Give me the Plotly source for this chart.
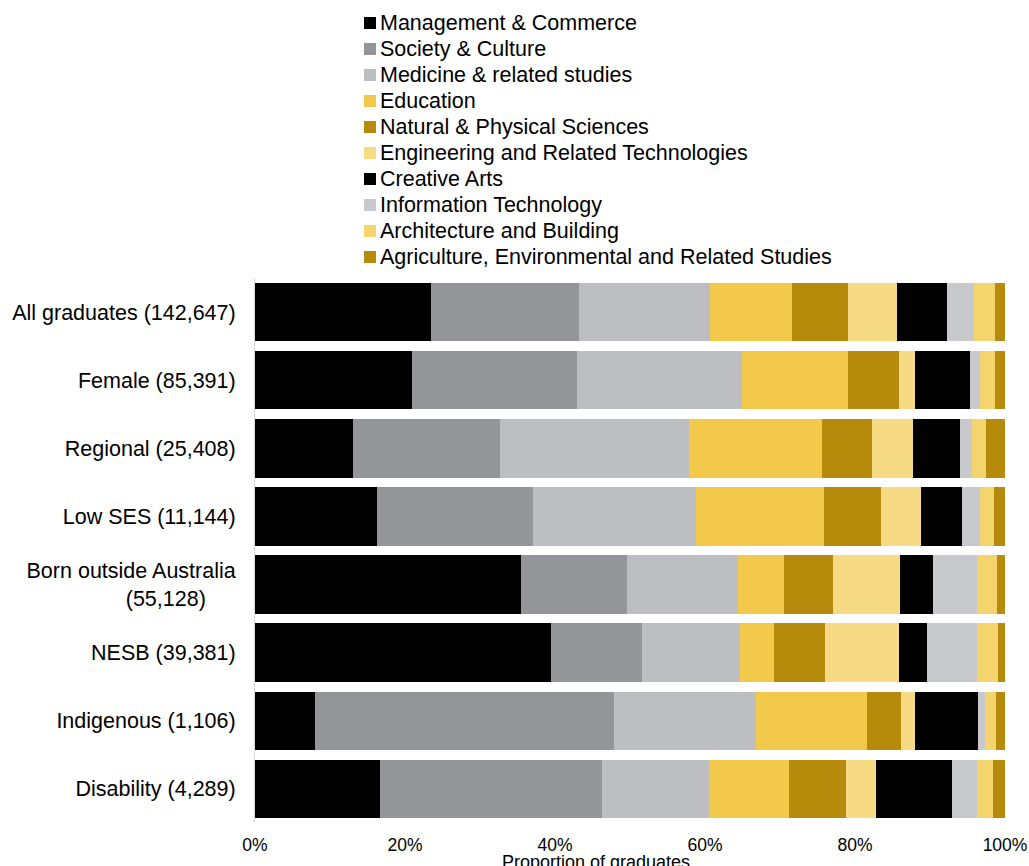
import plotly.graph_objects as go

categories = [
    "All graduates (142,647)",
    "Female (85,391)",
    "Regional (25,408)",
    "Low SES (11,144)",
    "Born outside Australia<br>(55,128)\u00a0\u00a0\u00a0\u00a0\u00a0",
    "NESB (39,381)",
    "Indigenous (1,106)",
    "Disability (4,289)",
]

series_names = [
    "Management & Commerce",
    "Society & Culture",
    "Medicine & related studies",
    "Education",
    "Natural & Physical Sciences",
    "Engineering and Related Technologies",
    "Creative Arts",
    "Information Technology",
    "Architecture and Building",
    "Agriculture, Environmental and Related Studies",
]

# proportions (%) per category, in the order of `categories`
management = [23.5, 20.9, 13.1, 16.2, 35.5, 39.4, 8.0, 16.6]
society = [19.7, 22.0, 19.5, 20.8, 14.1, 12.2, 39.8, 29.6]
medicine = [17.5, 22.0, 25.2, 21.8, 14.8, 13.0, 19.0, 14.3]
education = [10.9, 14.1, 17.8, 17.0, 6.1, 4.6, 14.8, 10.7]
natural = [7.4, 6.9, 6.7, 7.7, 6.5, 6.8, 4.5, 7.6]
engineering = [6.6, 2.1, 5.4, 5.3, 9.0, 9.8, 1.9, 4.0]
creative = [6.6, 7.3, 6.3, 5.5, 4.4, 3.8, 8.4, 10.1]
it = [3.7, 1.3, 1.6, 2.4, 5.8, 6.6, 0.9, 3.4]
architecture = [2.7, 2.0, 1.9, 1.8, 2.7, 2.9, 1.5, 2.1]
agriculture = [1.4, 1.4, 2.5, 1.5, 1.1, 0.9, 1.2, 1.6]

x_ticks = [0, 20, 40, 60, 80, 100]
x_ticklabels = ["0%", "20%", "40%", "60%", "80%", "100%"]

values = [management, society, medicine, education, natural,
          engineering, creative, it, architecture, agriculture]
colors = ["#000000", "#939598", "#BCBEC1", "#F3C94B", "#B68A0A",
          "#F7DA84", "#000000", "#C8C9CC", "#F4D46C", "#B68A0A"]

FONT = "Arial, Liberation Sans, sans-serif"

W, H = 1029, 866
PL, PR, PT, PB = 255, 1005, 278, 823  # plot area in window pixels
PW, PH = PR - PL, PB - PT

fig = go.Figure()
for name, vals, col in zip(series_names, values, colors):
    fig.add_trace(go.Bar(
        y=categories, x=vals, name=name, orientation="h",
        marker=dict(color=col, line=dict(width=0)),
        showlegend=False,
    ))

fig.update_layout(
    width=W, height=H,
    barmode="stack", bargap=0.14,
    paper_bgcolor="white", plot_bgcolor="white",
    margin=dict(l=PL, r=W - PR, t=PT, b=H - PB, autoexpand=False),
    font=dict(family=FONT, color="#000000"),
    showlegend=False,
)
fig.update_xaxes(
    range=[0, 100], tickvals=x_ticks, ticktext=x_ticklabels,
    showgrid=False, zeroline=False, showline=False,
    tickfont=dict(size=17.5, family=FONT), ticklabelstandoff=9,
)
fig.update_yaxes(
    autorange="reversed", showgrid=False, zeroline=False,
    showline=True, linecolor="#D9D9D9", linewidth=1,
    tickfont=dict(size=21.5, family=FONT), ticklabelstandoff=14,
)

# legend (vertical list above the plot)
LEG_Y0, LEG_DY = 23, 26.0
SQ_X0, SQ_X1, TXT_X = 364, 376, 378
for i, (name, col) in enumerate(zip(series_names, colors)):
    yc = LEG_Y0 + LEG_DY * i
    fig.add_shape(
        type="rect", xref="paper", yref="paper",
        x0=(SQ_X0 - PL) / PW, x1=(SQ_X1 - PL) / PW,
        y0=(PB - (yc + 6)) / PH, y1=(PB - (yc - 6)) / PH,
        fillcolor=col, line=dict(width=0),
    )
    fig.add_annotation(
        text=name, xref="paper", yref="paper",
        x=(TXT_X - PL) / PW, y=(PB - yc) / PH,
        xanchor="left", yanchor="middle", showarrow=False,
        font=dict(size=21.5, family=FONT, color="#000000"),
    )

fig.add_annotation(
    text="Proportion of graduates", xref="paper", yref="paper",
    x=(596 - PL) / PW, y=-(850 - PB) / PH, xanchor="center", yanchor="top",
    showarrow=False, font=dict(size=18, family=FONT),
)

fig.write_html(
    "out.html",
    config={"displayModeBar": False},
    post_script="document.body.style.margin='0px';"
                "document.body.style.overflow='hidden';",
)
